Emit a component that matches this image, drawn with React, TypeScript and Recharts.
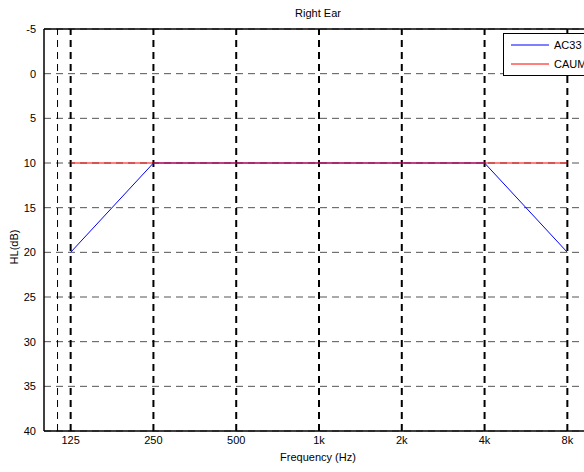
import { LineChart, Line, XAxis, YAxis, CartesianGrid, ReferenceLine, Legend } from "recharts"

const frequencies = [125, 250, 500, 1000, 2000, 4000, 8000]
const ac33 = [20, 10, 10, 10, 10, 10, 20]
const caum = [10, 10, 10, 10, 10, 10, 10]
const xTicks = [125, 250, 500, 1000, 2000, 4000, 8000]
const xTickLabels = ["125", "250", "500", "1k", "2k", "4k", "8k"]
const yTicks = [-5, 0, 5, 10, 15, 20, 25, 30, 35, 40]
const extraGridFreq = [112]

const data = frequencies.map((f, i) => ({ freq: f, ac33: ac33[i], caum: caum[i] }))

const font = "'Liberation Sans', Arial, sans-serif"

function LegendBox() {
  return (
    <div
      style={{
        width: 100,
        height: 41,
        border: "1px solid #000",
        background: "#fff",
        fontFamily: font,
        fontSize: 11,
        position: "relative",
      }}
    >
      <svg width={100} height={41} style={{ position: "absolute", left: 0, top: 0 }}>
        <line x1={7} x2={45} y1={11} y2={11} stroke="#0000ff" strokeWidth={1} />
        <line x1={7} x2={45} y1={30} y2={30} stroke="#ff0000" strokeWidth={1} />
        <text x={50} y={15} fontSize={11} fontFamily={font} fill="#000">AC33</text>
        <text x={50} y={34} fontSize={11} fontFamily={font} fill="#000">CAUM</text>
      </svg>
    </div>
  )
}

export default function App() {
  return (
    <div
      style={{
        position: "absolute",
        left: 0,
        top: 0,
        width: 584,
        height: 472,
        overflow: "hidden",
        background: "#fff",
        fontFamily: font,
      }}
    >
      <div style={{ position: "absolute", left: 0, width: 636, top: 7, textAlign: "center", fontSize: 11 }}>
        Right Ear
      </div>
      <div style={{ position: "absolute", left: 0, width: 636, top: 451, textAlign: "center", fontSize: 11 }}>
        Frequency (Hz)
      </div>
      <div
        style={{
          position: "absolute",
          left: 14,
          top: 247,
          transform: "translate(-50%, -50%) rotate(-90deg)",
          fontSize: 11,
          whiteSpace: "nowrap",
        }}
      >
        HL(dB)
      </div>
      <LineChart
        width={594}
        height={472}
        data={data}
        margin={{ top: 29, right: 0, bottom: 0, left: 0 }}
        style={{ position: "absolute", left: 0, top: 0 }}
      >
        <CartesianGrid vertical={false} stroke="#555" strokeDasharray="7 5" />
        <XAxis
          dataKey="freq"
          type="number"
          scale="log"
          domain={[100, 10000]}
          ticks={xTicks}
          tickFormatter={(v) => xTickLabels[xTicks.indexOf(v)] ?? ""}
          tickLine={false}
          tickSize={0}
          tickMargin={5}
          axisLine={{ stroke: "#000", strokeWidth: 1.5 }}
          height={41}
          tick={{ fill: "#000", fontSize: 11, fontFamily: font }}
          allowDataOverflow
        />
        <YAxis
          type="number"
          reversed
          domain={[-5, 40]}
          ticks={yTicks}
          tickLine={false}
          axisLine={{ stroke: "#000", strokeWidth: 1.5 }}
          width={44}
          tick={{ fill: "#000", fontSize: 11, fontFamily: font }}
          tickMargin={2}
        />
        {extraGridFreq.map((f) => (
          <ReferenceLine key={f} x={f} stroke="#000" strokeWidth={1} strokeDasharray="7 5" />
        ))}
        {xTicks.map((f) => (
          <ReferenceLine key={f} x={f} stroke="#000" strokeWidth={2} strokeDasharray="7 5" />
        ))}
        <ReferenceLine y={-5} stroke="#000" strokeWidth={1.5} />
        <Legend
          layout="horizontal"
          verticalAlign="middle"
          content={() => <LegendBox />}
          wrapperStyle={{ position: "absolute", left: 503, top: 33, width: 100, height: 43 }}
        />
        <Line dataKey="ac33" name="AC33" stroke="#0000ff" strokeWidth={1} dot={false} isAnimationActive={false} />
        <Line dataKey="caum" name="CAUM" stroke="#ff0000" strokeWidth={1} dot={false} isAnimationActive={false} />
      </LineChart>
    </div>
  )
}
